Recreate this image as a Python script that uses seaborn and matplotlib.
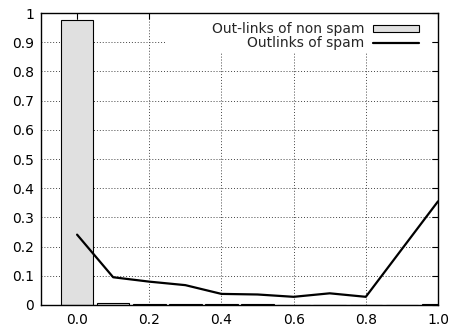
import matplotlib
matplotlib.use("Agg")
import matplotlib.pyplot as plt
import matplotlib.patches as mpatches
from matplotlib.ticker import FuncFormatter, MultipleLocator
import seaborn as sns

# Fraction of out-links per bin (bin centres 0.0 .. 1.0)
bins = [0.0, 0.1, 0.2, 0.3, 0.4, 0.5, 0.6, 0.7, 0.8, 0.9, 1.0]
nonspam = [0.977, 0.006, 0.003, 0.003, 0.002, 0.003, 0.001, 0.001, 0.001, 0.001, 0.005]

# spam curve has no sample in the 0.9 bin
spam_bins = [0.0, 0.1, 0.2, 0.3, 0.4, 0.5, 0.6, 0.7, 0.8, 1.0]
spam = [0.241, 0.095, 0.080, 0.068, 0.038, 0.036, 0.028, 0.040, 0.028, 0.355]

label_nonspam = "Out-links of non spam"
label_spam = "Outlinks of spam"

sns.set_theme(style="white")
plt.rcParams["font.family"] = ["DejaVu Sans"]
plt.rcParams["font.size"] = 10

fig = plt.figure(figsize=(4.52, 3.27), dpi=100)
ax = fig.add_axes([0.0907, 0.0673, 0.8783, 0.8927])

sns.barplot(x=bins, y=nonspam, native_scale=True, width=0.9, color="#e0e0e0",
            saturation=1, edgecolor="black", linewidth=0.8,
            label=label_nonspam, ax=ax, zorder=2)
sns.lineplot(x=spam_bins, y=spam, color="black", linewidth=1.6,
             label=label_spam, ax=ax, zorder=3)

ax.set_xlim(-0.1, 1.0)
ax.set_ylim(0, 1)
ax.xaxis.set_major_locator(MultipleLocator(0.2))
ax.yaxis.set_major_locator(MultipleLocator(0.1))
ax.xaxis.set_major_formatter(FuncFormatter(lambda v, p: f"{v:.1f}"))
ax.yaxis.set_major_formatter(FuncFormatter(lambda v, p: f"{v:g}"))
ax.set_xlabel("")
ax.set_ylabel("")

ax.set_axisbelow(True)
ax.grid(True, color="#444444", linewidth=0.7, linestyle=(0, (1, 2)))

for s in ax.spines.values():
    s.set_visible(True)
    s.set_color("black")
    s.set_linewidth(1.0)
ax.tick_params(axis="both", which="major", direction="in", length=4.5, width=0.8,
               color="black", top=True, right=True, labelsize=10, labelcolor="black")
ax.tick_params(axis="y", pad=5)
ax.tick_params(axis="x", pad=6)

# white key area hiding the grid behind the legend
ax.add_patch(mpatches.Rectangle((0.315, 0.866), 0.67, 0.134, transform=ax.transAxes,
                                facecolor="white", edgecolor="none", zorder=1))

handles, labels = ax.get_legend_handles_labels()
by_label = dict(zip(labels, handles))
order = [label_nonspam, label_spam]
ax.legend([by_label[k] for k in order], order, loc="upper right",
          bbox_to_anchor=(0.952, 0.968),
          frameon=False, markerfirst=False, borderpad=0, borderaxespad=0,
          handlelength=3.3, handleheight=0.45, handletextpad=0.65,
          labelspacing=-0.02, fontsize=10)

fig.savefig("out.png", dpi=100)
